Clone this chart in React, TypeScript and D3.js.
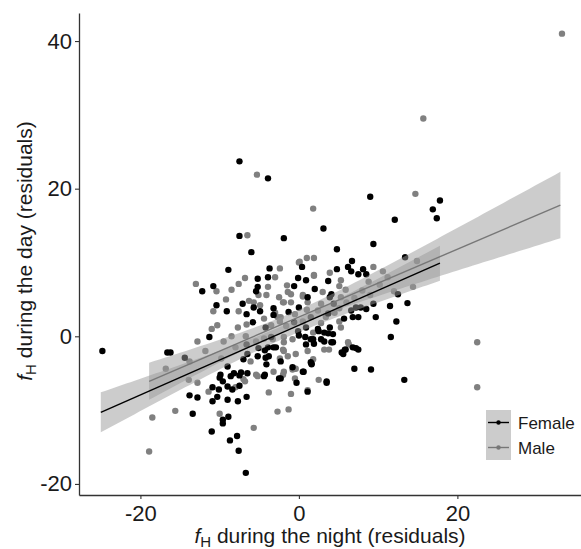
import React, { useEffect, useRef } from "react";
import * as d3 from "d3";

// ---- data ----
const xTicks = [-20, 0, 20];
const yTicks = [-20, 0, 20, 40];
const groups = ["Female", "Male"];

const femalePoints: [number, number][] = [
  [-7.5, 23.7], [-3.9, 21.4], [-7.5, 13.6], [-1.9, 13.3], [-6.0, 11.4], [-8.9, 9.0], [-3.7, 9.2],
  [9.0, 18.9], [17.8, 18.4], [16.9, 17.2], [17.4, 16.0], [12.1, 15.8], [3.1, 14.6], [4.8, 11.8],
  [9.4, 12.5], [13.4, 10.7], [6.7, 10.2], [0.4, 9.4], [4.8, 9.1], [6.2, 9.4], [6.6, 8.8], [8.1, 9.1],
  [7.5, 8.4], [8.5, 8.4],
  [13.3, -5.9], [11.6, -0.1], [12.3, 2.0], [9.7, 2.6], [13.7, 4.5], [11.5, 4.1], [9.1, -4.5], [7.0, -4.4],
  [3.5, -6.3], [-0.3, -6.3], [1.6, -3.8], [0.5, -4.8], [5.4, -2.2], [5.8, -1.8], [7.2, -1.6], [3.2, 0.5],
  [4.1, -0.8], [1.1, -7.5],
  [-12.2, 6.1], [-10.8, 6.8], [-5.2, 7.8], [-3.9, 8.0], [-5.2, 6.7], [-5.4, 6.1], [-10.4, 4.2], [-9.1, 3.4],
  [-7.1, 4.4], [-5.7, 3.9], [-6.6, 3.0], [-4.9, 3.4], [-3.2, 3.8], [-3.2, 2.9], [-11.3, -0.1], [-5.8, 1.9],
  [-4.2, 1.2], [-6.6, -1.1], [-3.5, -0.1], [-2.9, -1.5], [-4.3, -1.9], [-5.1, -1.6], [-16.6, -2.2],
  [-16.2, -2.2], [-14.4, -2.9], [-6.5, -2.4], [-7.0, -3.1], [-3.8, -2.7], [-4.1, -3.8], [-9.0, -4.1],
  [-9.9, -5.2], [-8.2, -5.0], [-7.3, -4.9], [-6.5, -5.0], [-4.3, -5.2], [-24.8, -2.0],
  [-10.0, -5.6], [-9.6, -6.1], [-8.6, -5.4], [-7.5, -5.3], [-4.4, -5.4], [-2.5, -5.7], [-10.9, -6.9],
  [-10.1, -7.2], [-9.0, -6.8], [-8.4, -7.2], [-7.5, -6.7], [-13.8, -8.0], [-12.8, -8.3], [-10.3, -8.2],
  [-10.9, -8.8], [-9.0, -8.6], [-7.7, -8.8], [-6.6, -8.2], [-13.4, -10.5], [-8.9, -10.9], [-9.6, -11.3],
  [-9.6, -11.8], [-11.0, -12.9], [-7.8, -13.5], [-8.7, -14.1], [-7.6, -15.5], [-6.7, -18.5],
  [-0.1, 7.9], [0.9, 7.6], [-0.6, 6.8], [3.7, 7.5], [2.0, 6.4], [4.1, 5.7], [1.1, 5.3], [0.0, 3.9],
  [3.9, 5.3], [4.4, 4.4], [3.7, 3.1], [6.6, 3.5], [7.2, 3.9], [7.8, 3.9], [8.5, 3.7], [6.8, 2.6],
  [7.5, 2.6], [9.4, 4.4], [12.5, 5.7], [-1.3, 3.3], [1.5, 2.6], [-0.6, 1.9], [3.9, 1.2], [5.7, 2.4],
  [-0.1, 0.7], [0.9, 1.2], [2.5, 0.7], [0.0, 0.1], [0.8, -0.1], [1.8, -0.4], [2.8, -0.4], [3.7, 0.4],
  [4.3, -0.8], [0.9, -1.1], [1.9, -1.0], [5.9, -1.8], [5.6, -2.4], [6.8, -1.5], [7.5, -1.8], [-2.3, -3.4],
  [1.6, -3.7], [0.6, -4.8], [3.5, -6.1], [-2.3, -5.7],
  [-3.9, -1.5], [-3.2, -1.5], [-5.2, -2.7], [-4.2, -2.9], [1.5, -3.5], [-0.8, -4.2], [4.3, 0.3],
  [3.2, -0.7], [1.5, -0.4], [2.4, 1.0],
];

const malePoints: [number, number][] = [
  [-5.3, 21.9], [-6.5, 13.7], [-2.4, 9.2], [0.0, 10.0], [33.2, 41.0], [15.7, 29.5], [14.7, 19.3],
  [1.8, 17.3], [14.9, 10.2], [0.1, 10.1], [1.0, 10.6], [1.9, 10.6], [9.4, 9.4], [10.6, 8.8], [3.9, 8.6],
  [1.9, 8.3], [22.5, -0.8], [22.5, -6.9], [2.5, -5.9], [1.1, -7.3], [-1.3, -9.9], [-0.6, -4.4],
  [6.3, -1.1], [3.8, -1.8],
  [-13.0, 7.1], [-10.4, 6.1], [-8.5, 6.3], [-7.6, 7.1], [-6.8, 7.9], [-3.0, 8.0], [-3.9, 6.7],
  [-5.1, 5.6], [-4.1, 5.6], [-2.5, 5.3], [-9.2, 5.0], [-10.8, 3.4], [-6.3, 4.8], [-7.6, 3.4], [-4.9, 4.2],
  [-4.4, 2.4], [-2.7, 2.6], [-2.4, 2.0], [-10.3, 1.5], [-11.0, 1.0], [-7.7, 1.2], [-6.6, 1.6], [-3.5, 1.5],
  [-8.5, 0.0], [-9.5, -0.7], [-12.8, -0.7], [-6.7, 0.0], [-5.4, -0.7], [-4.4, -0.3], [-16.8, -4.4],
  [-6.1, -3.4], [-2.4, -3.0], [-5.4, -5.2], [-3.2, -4.8], [-2.0, -5.2],
  [-6.8, -6.1], [-5.2, -5.4], [-13.9, -5.9], [-12.8, -6.3], [-11.4, -7.5], [-8.0, -6.9], [-15.6, -10.1],
  [-18.5, -11.0], [-10.0, -10.5], [-2.7, -10.2], [-5.7, -12.4], [-18.9, -15.6],
  [-1.5, 6.9], [1.9, 8.2], [5.3, 7.6], [5.1, 6.8], [3.0, 6.0], [5.9, 6.3], [0.5, 5.6], [-1.4, 6.0],
  [-2.0, 4.6], [-1.0, 4.6], [1.1, 4.6], [2.8, 4.4], [5.3, 5.3], [2.4, 3.5], [5.1, 3.8], [14.4, 6.7],
  [12.0, 6.1], [-2.3, 2.6], [0.5, 2.0], [-1.6, 1.4], [2.8, 1.8], [5.1, 2.0], [1.8, 0.5], [5.3, 1.2],
  [-1.9, -0.1], [-0.8, -0.4], [-2.0, -1.8], [-0.4, -2.4], [-1.4, -2.7], [1.1, -2.0], [3.2, -1.8],
  [-0.8, -4.5], [-0.4, -4.4], [-1.9, -4.8], [-0.5, -5.7],
  [-5.7, 4.6], [-1.9, 4.6], [-1.0, 5.7], [0.5, 5.4], [-1.9, -0.8], [-3.3, -0.4], [-1.9, -2.0],
  [1.8, -3.1], [6.2, -0.8], [-3.0, 3.2], [-0.5, 3.0], [1.0, 3.6], [3.4, 2.6], [4.5, 3.2], [6.0, 4.6],
  [7.0, 5.2], [8.0, 6.2], [9.0, 5.6], [10.2, 7.0], [8.8, 7.4], [11.2, 8.0], [-8.0, -1.5], [-9.8, -3.0],
  [-11.8, -2.0], [-13.8, -3.4], [-7.0, -5.8], [-3.8, -7.6], [-1.0, -7.8],
];

// linear fits (geom_smooth, method = "lm")
const femaleFit = { from: -25, to: 17.8, intercept: 1.5, slope: 0.472, ciCentre: -2, ciMin: 0.9, ciGrowth: 0.111 };
const maleFit = { from: -18.9, to: 33, intercept: 2.6, slope: 0.46, ciCentre: -1, ciMin: 1.0, ciGrowth: 0.129 };

// ---- layout ----
const W = 581;
const H = 549;
const plotLeft = 79;
const plotRight = 581;
const plotTop = 13;
const plotBottom = 495;

const FONT = "'Liberation Sans', Arial, Helvetica, sans-serif";
const FEMALE_COL = "#000000";
const MALE_COL = "#808080";
const BAND_COL = "#999999";
const BAND_OP = 0.5;

type Fit = typeof femaleFit;

export default function App() {
  const xAxisRef = useRef<SVGGElement>(null);
  const yAxisRef = useRef<SVGGElement>(null);

  const x = d3.scaleLinear().domain([-27.75, 35.6]).range([plotLeft, plotRight]);
  const y = d3.scaleLinear().domain([-21.5, 43.8]).range([plotBottom, plotTop]);

  useEffect(() => {
    const styleAxis = (g: d3.Selection<SVGGElement, unknown, null, undefined>) => {
      g.select(".domain").attr("stroke", "#333").attr("stroke-width", 1.3);
      g.selectAll(".tick line").attr("stroke", "#333").attr("stroke-width", 1.1);
      g.selectAll(".tick text")
        .attr("fill", "#1a1a1a")
        .style("font-family", FONT)
        .style("font-size", "22px");
    };
    const fmt = (d: d3.NumberValue) => String(d);
    if (xAxisRef.current) {
      const g = d3.select(xAxisRef.current);
      g.call(d3.axisBottom(x).tickValues(xTicks).tickSize(4).tickSizeOuter(0).tickPadding(6).tickFormat(fmt));
      styleAxis(g);
    }
    if (yAxisRef.current) {
      const g = d3.select(yAxisRef.current);
      g.call(d3.axisLeft(y).tickValues(yTicks).tickSize(4).tickSizeOuter(0).tickPadding(3).tickFormat(fmt));
      styleAxis(g);
    }
  });

  const halfWidth = (f: Fit, v: number) =>
    Math.sqrt(f.ciMin * f.ciMin + f.ciGrowth * f.ciGrowth * (v - f.ciCentre) * (v - f.ciCentre));
  const fitY = (f: Fit, v: number) => f.intercept + f.slope * v;

  const band = (f: Fit) => {
    const xs = d3.range(f.from, f.to, (f.to - f.from) / 80).concat([f.to]);
    return d3
      .area<number>()
      .x((v) => x(v))
      .y0((v) => y(fitY(f, v) - halfWidth(f, v)))
      .y1((v) => y(fitY(f, v) + halfWidth(f, v)))(xs) as string;
  };
  const line = (f: Fit) =>
    d3
      .line<number>()
      .x((v) => x(v))
      .y((v) => y(fitY(f, v)))([f.from, f.to]) as string;

  const legendX = 486;
  const legendY = 410;
  const keySize = 25;

  return (
    <svg
      width={W}
      height={H}
      style={{ position: "absolute", left: 0, top: 0, background: "#fff" }}
      fontFamily={FONT}
    >
      <rect x={0} y={0} width={W} height={H} fill="#fff" />
      {/* points */}
      <g>
        {malePoints.map((p, i) => (
          <circle key={"m" + i} cx={x(p[0])} cy={y(p[1])} r={3.2} fill={MALE_COL} />
        ))}
        {femalePoints.map((p, i) => (
          <circle key={"f" + i} cx={x(p[0])} cy={y(p[1])} r={3.2} fill={FEMALE_COL} />
        ))}
      </g>
      {/* confidence bands */}
      <path d={band(femaleFit)} fill={BAND_COL} opacity={BAND_OP} />
      <path d={band(maleFit)} fill={BAND_COL} opacity={BAND_OP} />
      {/* fitted lines */}
      <path d={line(femaleFit)} stroke={FEMALE_COL} strokeWidth={1.4} fill="none" />
      <path d={line(maleFit)} stroke="#777" strokeWidth={1.4} fill="none" />

      {/* axes */}
      <g ref={xAxisRef} transform={`translate(0,${plotBottom})`} />
      <g ref={yAxisRef} transform={`translate(${plotLeft},0)`} />

      {/* axis titles */}
      <text x={(plotLeft + plotRight) / 2} y={543} textAnchor="middle" fontSize={21} fill="#1a1a1a">
        <tspan fontStyle="italic">f</tspan>
        <tspan fontSize={15} dy={4}>H</tspan>
        <tspan dy={-4}> during the night (residuals)</tspan>
      </text>
      <text
        transform={`translate(32,${(plotTop + plotBottom) / 2 - 3}) rotate(-90)`}
        textAnchor="middle"
        fontSize={21}
        fill="#1a1a1a"
      >
        <tspan fontStyle="italic">f</tspan>
        <tspan fontSize={15} dy={4}>H</tspan>
        <tspan dy={-4}> during the day (residuals)</tspan>
      </text>

      {/* legend */}
      <g>
        {groups.map((gname, i) => {
          const col = gname === "Female" ? FEMALE_COL : "#777";
          const cy = legendY + i * keySize + keySize / 2;
          return (
            <g key={gname}>
              <rect x={legendX} y={legendY + i * keySize} width={keySize} height={keySize} fill={BAND_COL} opacity={BAND_OP} />
              <line x1={legendX + 2} x2={legendX + keySize - 2} y1={cy} y2={cy} stroke={col} strokeWidth={1.4} />
              <circle cx={legendX + keySize / 2} cy={cy} r={2.2} fill={col} />
              <text x={legendX + keySize + 7} y={cy + 6} fontSize={17} fill="#1a1a1a">
                {gname}
              </text>
            </g>
          );
        })}
      </g>
    </svg>
  );
}
